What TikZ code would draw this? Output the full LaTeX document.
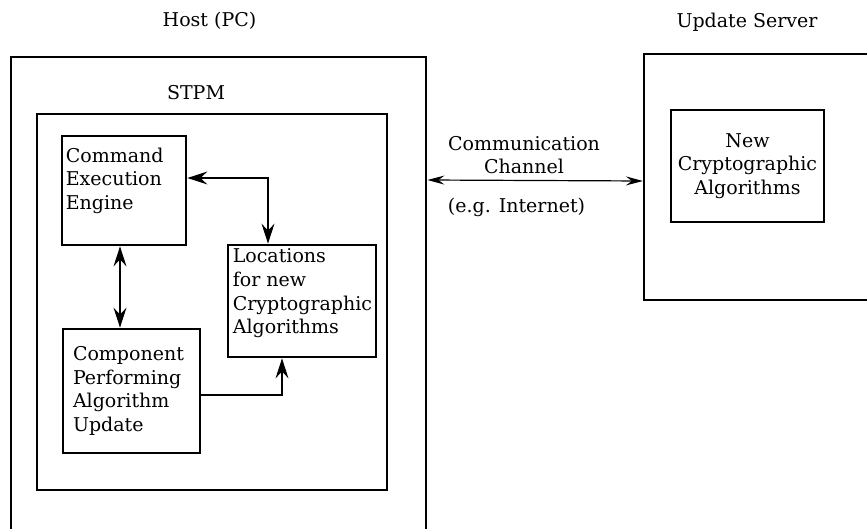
\documentclass[tikz,border=0pt]{standalone}
\usepackage{fontspec}
\setmainfont{DejaVu Serif}
\usetikzlibrary{positioning,arrows.meta}

\begin{document}
\begin{tikzpicture}[x=1pt, y=-1pt,
    every node/.style={font=\fontsize{19}{23.7}\selectfont},
    box/.style={draw, line width=2.8pt, inner sep=0pt},
    txt/.style={anchor=north west, align=left, inner sep=0pt},
    conn/.style={line width=1.2pt},
    >={Stealth[length=20pt,width=13pt,inset=7pt]}]
  \useasboundingbox (0,0) rectangle (867,529);
  % host side
  \node[box, minimum width=415pt, minimum height=478pt] (host) at (218.5,296) {};
  \node (hosttitle) at (209.5,21) {Host (PC)};
  \node[box, minimum width=350pt, minimum height=376pt] (stpm) at (212,302) {};
  \node (stpmtitle) at (196,93) {STPM};
  \node[box, minimum width=124pt, minimum height=109pt] (cee) at (124,190.5) {};
  \node[txt] (ceetext) at ([xshift=5pt,yshift=-13pt]cee.north west) {Command\\Execution\\Engine};
  \node[box, minimum width=148pt, minimum height=112pt] (loc) at (302,301) {};
  \node[txt] (loctext) at ([xshift=6pt,yshift=-5pt]loc.north west) {Locations\\for new\\Cryptographic\\Algorithms};
  \node[box, minimum width=137pt, minimum height=124pt, text width=117pt, inner xsep=10pt, align=left] (comp) at (131.5,391) {Component\\Performing\\Algorithm\\Update};
  % server side
  \node[draw, line width=2.2pt, minimum width=231pt, minimum height=246pt] (server) at (759.5,177) {};
  \node (servertitle) at (747,22) {Update Server};
  \node[draw, line width=1.6pt, minimum width=153pt, minimum height=112pt, inner sep=0pt, align=center] (newalg) at (747.5,166) {New\\Cryptographic\\Algorithms};
  % connectors
  \draw[conn, <->] ([yshift=12.5pt]cee.east) -| ([xshift=-34pt]loc.north);
  \draw[conn, <->] ([xshift=-4pt]cee.south) -- ([xshift=-4pt]cee.south |- comp.north);
  \draw[conn, ->] ([yshift=-4pt]comp.east) -| ([xshift=-20pt]loc.south);
  \draw[conn, >={Stealth[length=17pt,width=9pt,inset=6pt]}, <->] (host.east |- 0,180) -- (server.west |- 0,181);
  \node[align=center] (chanlabel) at (524,155) {Communication\\Channel};
  \node (netlabel) at (516.5,207) {(e.g. Internet)};
\end{tikzpicture}
\end{document}
